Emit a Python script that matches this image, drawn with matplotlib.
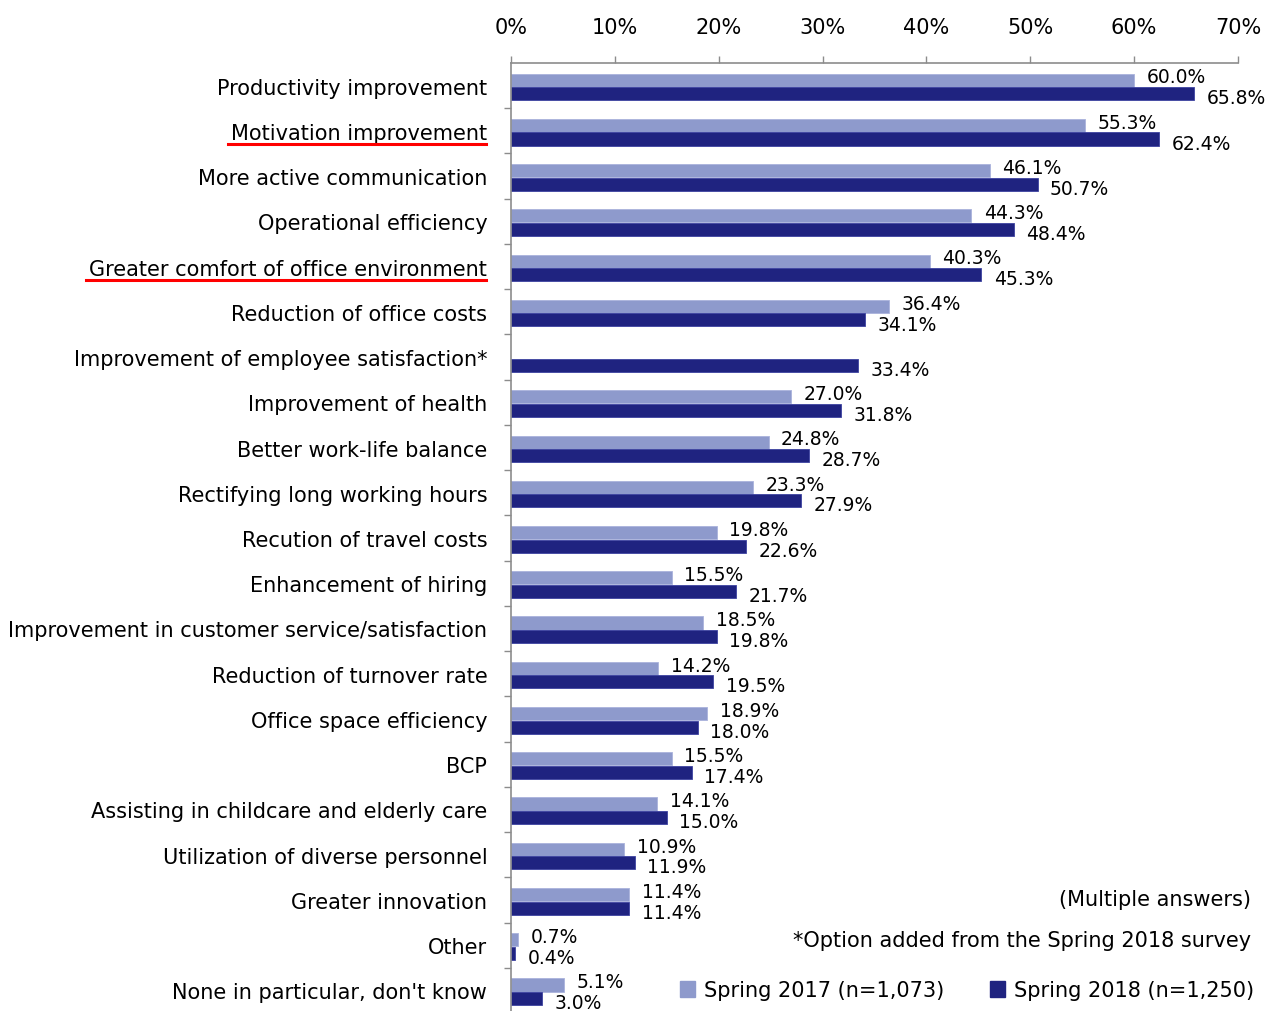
import matplotlib
matplotlib.use("Agg")
import matplotlib.pyplot as plt
from matplotlib.lines import Line2D
from matplotlib.patches import Patch
import numpy as np

plt.rcParams['font.family'] = ['DejaVu Sans']

categories = [
    "Productivity improvement",
    "Motivation improvement",
    "More active communication",
    "Operational efficiency",
    "Greater comfort of office environment",
    "Reduction of office costs",
    "Improvement of employee satisfaction*",
    "Improvement of health",
    "Better work-life balance",
    "Rectifying long working hours",
    "Recution of travel costs",
    "Enhancement of hiring",
    "Improvement in customer service/satisfaction",
    "Reduction of turnover rate",
    "Office space efficiency",
    "BCP",
    "Assisting in childcare and elderly care",
    "Utilization of diverse personnel",
    "Greater innovation",
    "Other",
    "None in particular, don't know",
]
spring_2017 = [60.0, 55.3, 46.1, 44.3, 40.3, 36.4, None, 27.0, 24.8, 23.3, 19.8,
               15.5, 18.5, 14.2, 18.9, 15.5, 14.1, 10.9, 11.4, 0.7, 5.1]
spring_2018 = [65.8, 62.4, 50.7, 48.4, 45.3, 34.1, 33.4, 31.8, 28.7, 27.9, 22.6,
               21.7, 19.8, 19.5, 18.0, 17.4, 15.0, 11.9, 11.4, 0.4, 3.0]
underlined = ["Motivation improvement", "Greater comfort of office environment"]
xticks = [0, 10, 20, 30, 40, 50, 60, 70]

c_2017 = '#8E9ACC'
c_2018 = '#1F2380'
grey = '#8c8c8c'

fig = plt.figure(figsize=(12.66, 10.12), dpi=100)
ax = fig.add_axes([0.4036, -0.002, 0.5743, 0.9388])

y = np.arange(len(categories))
h = 0.29
off = 0.15

for i, (a, b) in enumerate(zip(spring_2017, spring_2018)):
    if a is not None:
        ax.barh(i - off + 0.03, a, height=h, color=c_2017, edgecolor='#aab2dc', linewidth=0.6)
        ax.annotate(f"{a:.1f}%", (a, i - off - 0.04), xytext=(9, 0), textcoords='offset points',
                    ha='left', va='center', fontsize=13.5)
    ax.barh(i + off + 0.03, b, height=h, color=c_2018, edgecolor='#3d43a0', linewidth=0.6)
    ax.annotate(f"{b:.1f}%", (b, i + off + 0.12), xytext=(9, 0), textcoords='offset points',
                ha='left', va='center', fontsize=13.5)

ax.set_xlim(0, 70)
ax.set_ylim(len(categories) - 0.5, -0.5)

ax.xaxis.tick_top()
ax.set_xticks(xticks)
ax.set_xticklabels([f"{t}%" for t in xticks], fontsize=15)
ax.tick_params(axis='x', direction='out', length=5, width=1, color=grey, pad=14)

ax.set_yticks(y)
ax.set_yticklabels(categories, fontsize=15)
ax.tick_params(axis='y', which='major', length=0, pad=17)
ax.set_yticks(np.arange(len(categories)) + 0.5, minor=True)
ax.tick_params(axis='y', which='minor', direction='out', length=5, width=1, color=grey)

for side in ['right', 'bottom']:
    ax.spines[side].set_visible(False)
for side in ['top', 'left']:
    ax.spines[side].set_color(grey)
    ax.spines[side].set_linewidth(1.2)

# red underline below highlighted category names
fig.canvas.draw()
renderer = fig.canvas.get_renderer()
for lab in ax.get_yticklabels():
    if lab.get_text() in underlined:
        bb = lab.get_window_extent(renderer)
        x0, x1 = bb.x0 - 3, bb.x1 - 1
        yy = bb.y0 - 1
        p0 = fig.transFigure.inverted().transform((x0, yy))
        p1 = fig.transFigure.inverted().transform((x1, yy))
        fig.add_artist(Line2D([p0[0], p1[0]], [p0[1], p1[1]], color='#FF0000', linewidth=2.2,
                              transform=fig.transFigure))

fig.text(0.988, 0.1107, "(Multiple answers)", ha='right', va='center', fontsize=15)
fig.text(0.988, 0.0702, "*Option added from the Spring 2018 survey", ha='right', va='center', fontsize=15)

handles = [Patch(facecolor=c_2017, edgecolor=c_2017, label="Spring 2017 (n=1,073)"),
           Patch(facecolor=c_2018, edgecolor=c_2018, label="Spring 2018 (n=1,250)")]
fig.legend(handles=handles, loc='center right', bbox_to_anchor=(0.997, 0.0205), ncol=2,
           frameon=False, fontsize=15, handlelength=0.75, handleheight=0.75,
           handletextpad=0.4, columnspacing=2.2, borderaxespad=0)

fig.savefig("out.png", dpi=100)
